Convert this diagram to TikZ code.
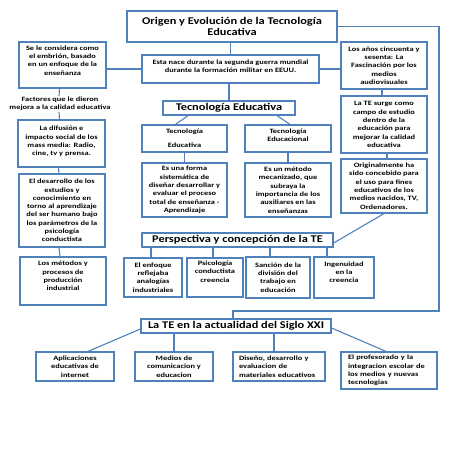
\documentclass[tikz,border=0pt]{standalone}
\usepackage{fontspec}
\setmainfont{Carlito}[FakeStretch=1.27]
\newfontfamily\headfont{Carlito}[FakeStretch=1.2]
\usepackage{tikz}
\usetikzlibrary{calc}
\definecolor{boxblue}{RGB}{79,129,189}

\begin{document}
\begin{tikzpicture}[x=1pt,y=-1pt,
  box/.style={draw=boxblue,line width=1.2pt,fill=white,align=center,inner sep=1pt,
    font=\fontsize{6.6}{8.3}\selectfont\bfseries},
  head/.style={box,font=\headfont\fontsize{10.3}{11.5}\selectfont\bfseries},
  link/.style={draw=boxblue,line width=1.1pt}]
\useasboundingbox (0,0) rectangle (453,453);
% title and centre column
\node[head,minimum width=210,minimum height=31] (title) at (232,26.5)
  {Origen y Evolución de la Tecnología\\Educativa};
\node[box,minimum width=177,minimum height=28,text depth=6pt] (esta) at (230.5,69)
  {Esta nace durante la segunda guerra mundial\\durante la formación militar en EEUU.};
\node[head,minimum width=132,minimum height=14] (te) at (229,108) {Tecnología Educativa};
\node[box,minimum width=85,minimum height=27] (tedu) at (184.5,138.5)
  {Tecnología\\[6pt]Educativa};
\node[box,minimum width=86,minimum height=27,text depth=7pt] (tedn) at (288,138.5)
  {Tecnología\\Educacional};
\node[box,minimum width=85,minimum height=54] (forma) at (184.5,190)
  {Es una forma\\sistemática de\\diseñar desarrollar y\\evaluar el proceso\\total de enseñanza -\\Aprendizaje};
\node[box,minimum width=86,minimum height=54] (metodo) at (288,190)
  {Es un método\\mecanizado, que\\subraya la\\importancia de los\\auxiliares en las\\enseñanzas};
% left column
\node[box,minimum width=87,minimum height=46,text depth=9pt] (embrion) at (62.5,65)
  {Se le considera como\\el embrión, basado\\en un enfoque de la\\enseñanza};
\node[font=\fontsize{6.6}{8.3}\selectfont\bfseries,align=center,inner sep=1pt] (factores) at (60,104)
  {Factores que le dieron\\mejora a la calidad educativa};
\node[box,minimum width=87,minimum height=47,text depth=5pt] (difusion) at (61.5,143.5)
  {La difusión e\\impacto social de los\\mass media: Radio,\\cine, tv y prensa.};
\node[box,minimum width=86,minimum height=73] (desarrollo) at (62,210.5)
  {El desarrollo de los\\estudios y\\conocimiento en\\torno al aprendizaje\\del ser humano bajo\\los parámetros de la\\psicología\\conductista};
\node[box,minimum width=86,minimum height=48,text depth=10pt] (produccion) at (63,281)
  {Los métodos y\\procesos de\\producción\\industrial};
% right column
\node[box,minimum width=86,minimum height=47] (anos) at (384,65.5)
  {Los años cincuenta y\\sesenta: La\\Fascinación por los\\medios\\audiovisuales};
\node[box,minimum width=86,minimum height=57] (surge) at (384,124.5)
  {La TE surge como\\campo de estudio\\dentro de la\\educación para\\mejorar la calidad\\educativa};
\node[box,minimum width=86,minimum height=54] (origin) at (384,186)
  {Originalmente ha\\sido concebido para\\el uso para fines\\educativos de los\\medios nacidos, TV,\\Ordenadores.};
% perspectiva
\node[head,minimum width=191,minimum height=14] (persp) at (237.5,240)
  {Perspectiva y concepción de la TE};
\node[box,minimum width=58,minimum height=39] (enfoque) at (153,277.5)
  {El enfoque\\reflejaba\\analogías\\industriales};
\node[box,minimum width=56,minimum height=39,text depth=12pt] (psico) at (215,277.5)
  {Psicología\\conductista\\creencia};
\node[box,minimum width=64,minimum height=41] (sancion) at (278,277.5)
  {Sanción de la\\división del\\trabajo en\\educación};
\node[box,minimum width=60,minimum height=41,text depth=11pt] (ingenuidad) at (344,277.5)
  {Ingenuidad\\en la\\creencia};
% siglo XXI
\node[head,minimum width=190,minimum height=14] (actual) at (236,326)
  {La TE en la actualidad del Siglo XXI};
\node[box,minimum width=78,minimum height=29] (aplic) at (75,366.5)
  {Aplicaciones\\educativas de\\internet};
\node[box,minimum width=78,minimum height=29] (medios) at (174,366.5)
  {Medios de\\comunicacion y\\educacion};
\node[box,minimum width=92,minimum height=29,align=left,text width=80] (diseno) at (279,366.5)
  {Diseño, desarrollo y\\evaluacion de\\materiales educativos};
\node[box,minimum width=96,minimum height=37,align=left,text width=82] (profes) at (389,370.5)
  {El profesorado y la\\integracion escolar de\\los medios y nuevas\\tecnologias};
% connectors
\coordinate (turn) at (439,311);
\draw[link] (esta.north) -- (esta.north |- title.south);
\draw[link] (esta.west) -- (esta.west -| embrion.east);
\draw[link] (esta.east) -- (esta.east -| anos.west);
\draw[link] (te.north) -- (te.north |- esta.south);
\draw[link] ([xshift=-41pt]te.south) -- ([xshift=-9pt]tedu.north);
\draw[link] ([xshift=48pt]te.south) -- ([xshift=2pt]tedn.north);
\draw[link] (tedu.south) -- (forma.north);
\draw[link] (tedn.south) -- (metodo.north);
\draw[link] ([xshift=-3pt]embrion.south) -- ([xshift=-1pt]factores.north);
\draw[link] ([xshift=-1pt]factores.south) -- ([xshift=-2pt]difusion.north);
\draw[link] ([xshift=-3pt]difusion.south) -- ([xshift=-3pt]desarrollo.north);
\draw[link] ([xshift=-3pt]desarrollo.south) -- ([xshift=-3pt]produccion.north);
\draw[link] ([xshift=-2pt]anos.south) -- ([xshift=-2pt]surge.north);
\draw[link] ([xshift=3pt]surge.south) -- ([xshift=3pt]origin.north);
\draw[link] (origin.south) -- ([yshift=-3pt]persp.east);
\draw[link] ([xshift=-2pt]enfoque.north) -- ([xshift=-2pt]enfoque.north |- persp.south);
\draw[link] ([xshift=-2pt]psico.north) -- ([xshift=-2pt]psico.north |- persp.south);
\draw[link] ([xshift=-8pt]sancion.north) -- ([xshift=-8pt]sancion.north |- persp.south);
\draw[link] ([xshift=-17pt]ingenuidad.north) -- ([xshift=-17pt]ingenuidad.north |- persp.south);
\draw[link] (title.east) -| (turn) -| ([xshift=-3pt]actual.north);
\draw[link] ([yshift=-3pt]actual.west) -- ([xshift=13pt]aplic.north);
\draw[link] (medios.north) -- (medios.north |- actual.south);
\draw[link] ([xshift=-5pt]diseno.north) -- ([xshift=-5pt]diseno.north |- actual.south);
\draw[link] ([yshift=-2pt]actual.east) -- ([xshift=-3pt]profes.north);
\end{tikzpicture}
\end{document}
